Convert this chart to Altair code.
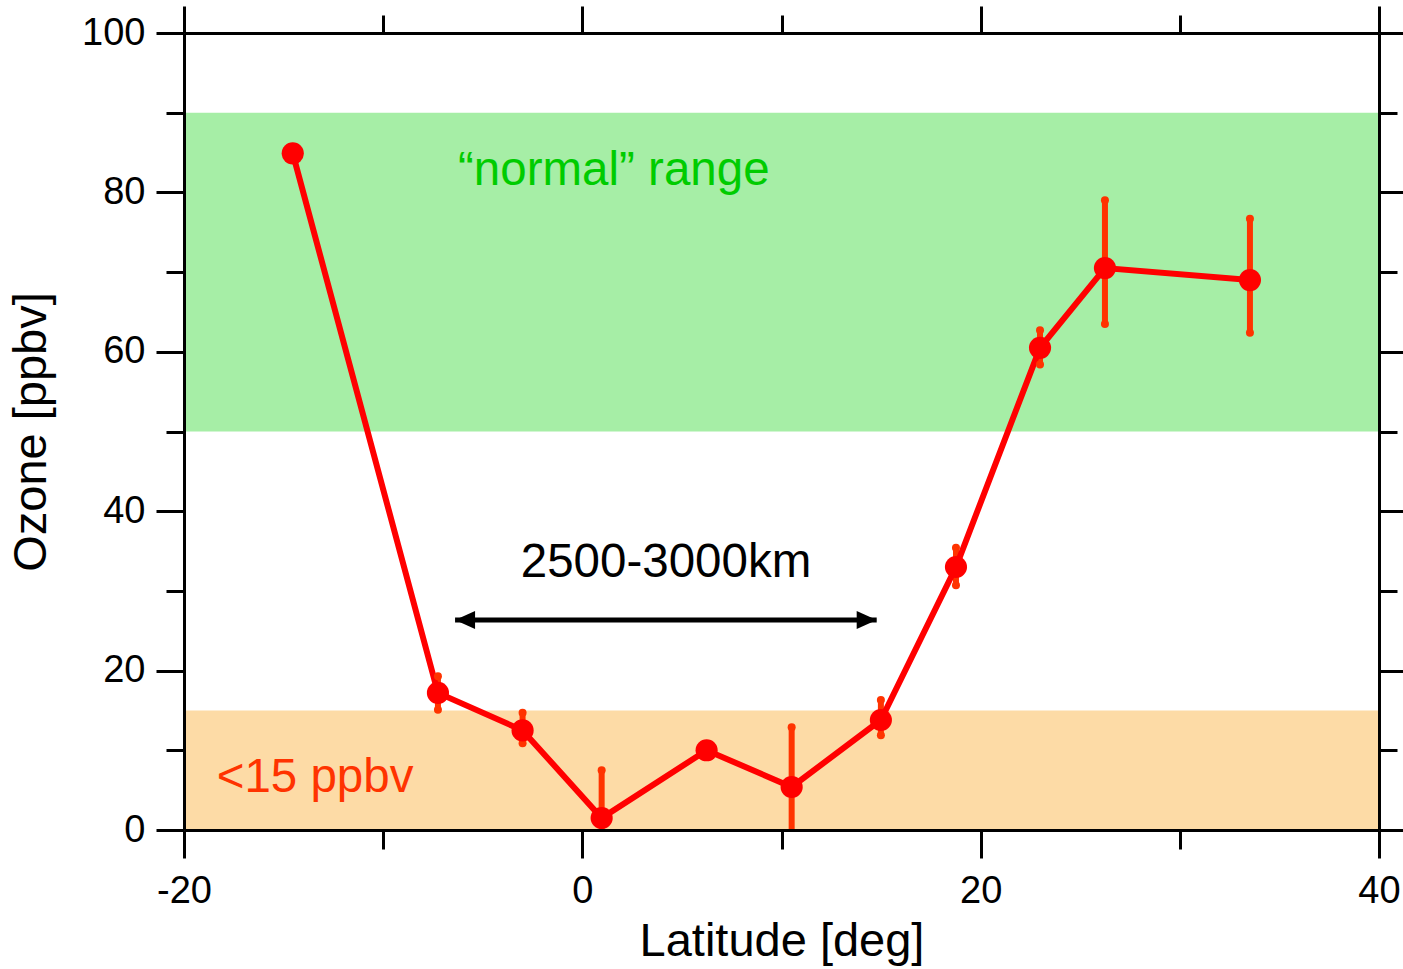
import altair as alt
import pandas as pd

# Ozone profile along latitude
lat = [-14.54, -7.25, -3.0, 0.97, 6.24, 10.51, 14.99, 18.76, 22.98, 26.24, 33.52]
ozone = [84.9, 17.2, 12.5, 1.5, 10.0, 5.4, 13.8, 33.0, 60.5, 70.5, 69.0]
err_hi = [None, 19.3, 14.7, 7.5, None, 12.9, 16.3, 35.4, 62.7, 79.0, 76.7]
err_lo = [None, 15.1, 10.9, 0.0, None, 0.0, 11.9, 30.7, 58.4, 63.5, 62.4]

# Reference bands
band_lo = [50, 0]
band_hi = [90, 15]
band_fill = ["#A6EEA6", "#FDDBA6"]

# Distance arrow and annotations
arrow_lat = [-6.39, 14.78]
arrow_oz = 26.35

FONT = "Liberation Sans"

pts = pd.DataFrame({"lat": lat, "ozone": ozone})
errs = pd.DataFrame({"lat": lat, "lo": err_lo, "hi": err_hi}).dropna()
caps = pd.DataFrame(
    [{"lat": a, "v": v} for a, lo, hi in zip(lat, err_lo, err_hi)
     for v in (lo, hi) if v is not None and v > 0]
)
bands = pd.DataFrame({"x0": -20, "x1": 40, "lo": band_lo, "hi": band_hi, "fill": band_fill})
arrow = pd.DataFrame({"a": [arrow_lat[0]], "b": [arrow_lat[1]], "y": [arrow_oz]})
heads = pd.DataFrame({
    "lat": arrow_lat,
    "y": [arrow_oz, arrow_oz],
    "shape": ["M0,0 L2,-0.9 L2,0.9 Z", "M0,0 L-2,-0.9 L-2,0.9 Z"],
})

xs = alt.Scale(domain=[-20, 40], nice=False, zero=False)
ys = alt.Scale(domain=[0, 100], nice=False, zero=False)

X_MAJOR = [-20, 0, 20, 40]
X_MINOR = [-10, 10, 30]
Y_MAJOR = [0, 20, 40, 60, 80, 100]
Y_MINOR = [10, 30, 50, 70, 90]


def axis(orient, values, size, labels=False, domain=False, title=None, pad=10, tpad=8):
    kw = dict(
        orient=orient, values=values, tickSize=size, tickWidth=3, tickColor="black",
        domain=domain, domainWidth=3, domainColor="black", grid=False,
        labels=labels, title=title, zindex=1,
    )
    if labels:
        kw.update(labelFont=FONT, labelFontSize=38, labelColor="black",
                  labelExpr="'' + datum.value",
                  labelPadding=pad, labelFlush=False, labelOverlap=False, labelBound=False)
    if title:
        kw.update(titleFont=FONT, titleFontSize=47, titleFontWeight="normal",
                  titleColor="black", titlePadding=tpad)
    return alt.Axis(**kw)


band_layer = alt.Chart(bands).mark_rect().encode(
    x=alt.X("x0:Q", scale=xs, axis=axis("bottom", X_MAJOR, 28, labels=True, domain=True,
                                         title="Latitude [deg]", pad=14, tpad=8)),
    x2="x1:Q",
    y=alt.Y("lo:Q", scale=ys, axis=axis("left", Y_MAJOR, 28, labels=True, domain=True,
                                         title="Ozone [ppbv]", pad=11, tpad=26)),
    y2="hi:Q",
    color=alt.Color("fill:N", scale=None),
)

err_layer = alt.Chart(errs).mark_rule(color="#FF3300", strokeWidth=6).encode(
    x=alt.X("lat:Q", scale=xs, axis=axis("top", X_MAJOR, 27, domain=True)),
    y=alt.Y("lo:Q", scale=ys, axis=axis("right", Y_MAJOR, 28, domain=True)),
    y2="hi:Q",
)

line_layer = alt.Chart(pts).mark_line(color="#FF0000", strokeWidth=6).encode(
    x=alt.X("lat:Q", scale=xs, axis=axis("bottom", X_MINOR, 19)),
    y=alt.Y("ozone:Q", scale=ys, axis=axis("left", Y_MINOR, 18)),
)

cap_layer = alt.Chart(caps).mark_circle(color="#FF3300", size=64, opacity=1).encode(
    x=alt.X("lat:Q", scale=xs, axis=None),
    y=alt.Y("v:Q", scale=ys, axis=None),
)

point_layer = alt.Chart(pts).mark_circle(color="#FF0000", size=490, opacity=1).encode(
    x=alt.X("lat:Q", scale=xs, axis=axis("top", X_MINOR, 18)),
    y=alt.Y("ozone:Q", scale=ys, axis=axis("right", Y_MINOR, 18)),
)

arrow_line = alt.Chart(arrow).mark_rule(color="black", strokeWidth=5).encode(
    x=alt.X("a:Q", scale=xs, axis=None),
    x2="b:Q",
    y=alt.Y("y:Q", scale=ys, axis=None),
)

arrow_heads = alt.Chart(heads).mark_point(filled=True, color="black", size=400, opacity=1).encode(
    x=alt.X("lat:Q", scale=xs, axis=None),
    y=alt.Y("y:Q", scale=ys, axis=None),
    shape=alt.Shape("shape:N", scale=None),
)


def label(text, x, y, color, align):
    df = pd.DataFrame({"x": [x], "y": [y], "t": [text]})
    return alt.Chart(df).mark_text(
        font=FONT, fontSize=47.5, color=color, align=align, baseline="alphabetic"
    ).encode(
        x=alt.X("x:Q", scale=xs, axis=None),
        y=alt.Y("y:Q", scale=ys, axis=None),
        text="t:N",
    )


txt_normal = label("\u201cnormal\u201d range", -6.24, 80.9, "#00CC00", "left")
txt_low = label("<15 ppbv", -18.36, 4.8, "#FF3300", "left")
txt_dist = label("2500-3000km", 4.2, 31.8, "black", "center")

chart = alt.layer(
    band_layer, err_layer, line_layer, cap_layer, point_layer,
    arrow_line, arrow_heads, txt_normal, txt_low, txt_dist,
).resolve_axis(
    x="independent", y="independent"
).properties(
    width=1195,
    height=797,
    autosize=alt.AutoSizeParams(type="none"),
    padding={"left": 184, "top": 33, "right": 24, "bottom": 139},
    background="white",
).configure_view(stroke=None)

chart.save("out.html", embed_options={"renderer": "svg", "actions": False})
